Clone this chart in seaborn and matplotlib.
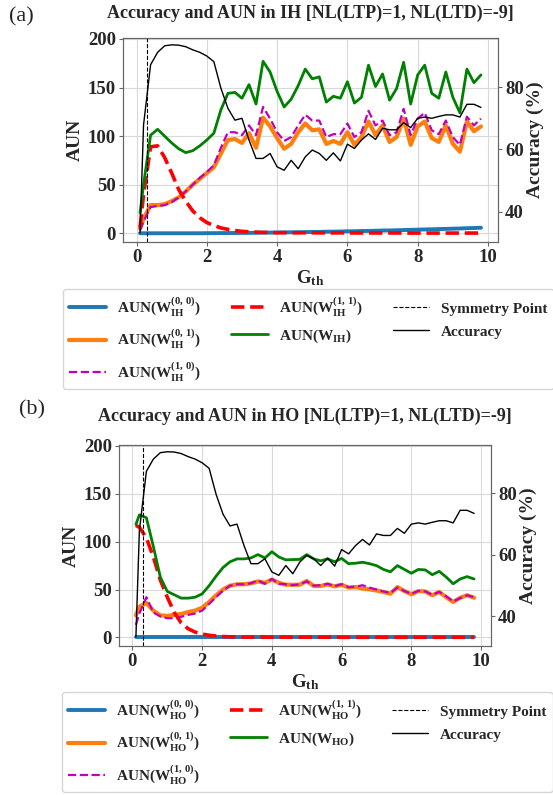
import numpy as np
import pandas as pd
import matplotlib
matplotlib.use("Agg")
import matplotlib.pyplot as plt
import seaborn as sns

# ---------------- data ----------------
g_th = [0.1, 0.2, 0.4, 0.6, 0.8, 1.0, 1.2, 1.4, 1.6, 1.8, 2.0, 2.2, 2.4, 2.6, 2.8,
        3.0, 3.2, 3.4, 3.6, 3.8, 4.0, 4.2, 4.4, 4.6, 4.8, 5.0, 5.2, 5.4, 5.6, 5.8,
        6.0, 6.2, 6.4, 6.6, 6.8, 7.0, 7.2, 7.4, 7.6, 7.8, 8.0, 8.2, 8.4, 8.6, 8.8,
        9.0, 9.2, 9.4, 9.6, 9.8]

accuracy = [33.2, 67.9, 87.2, 91.2, 93.3, 93.6, 93.5, 93.0, 92.0, 91.2, 90.0, 88.2, 79.7, 73.2, 69.4,
            70.0, 63.0, 57.1, 57.1, 58.7, 54.4, 53.3, 56.5, 53.8, 57.6, 59.8, 58.7, 56.5, 58.9, 56.3,
            61.7, 60.3, 63.0, 65.0, 63.2, 66.8, 66.3, 66.3, 68.6, 67.0, 70.0, 70.4, 70.0, 70.6, 71.1,
            71.1, 70.4, 74.5, 74.5, 73.5]

symmetry_point = 0.3

# IH layer
ih_w00 = [0.0, 0.0, 0.0, 0.0, 0.0, 0.0, 0.0, 0.0, 0.0, 0.0, 0.1, 0.1, 0.2, 0.2, 0.3,
          0.3, 0.4, 0.5, 0.6, 0.7, 0.8, 0.9, 1.0, 1.1, 1.2, 1.3, 1.4, 1.6, 1.7, 1.8,
          2.0, 2.1, 2.3, 2.4, 2.6, 2.8, 2.9, 3.1, 3.3, 3.5, 3.7, 3.9, 4.1, 4.3, 4.5,
          4.7, 4.9, 5.2, 5.4, 5.7]
ih_w01 = [5, 15, 29, 29, 30, 33, 37, 43, 50, 56, 62, 68, 82, 96, 97,
          93, 103, 88, 119, 110, 98, 87, 92, 104, 113, 106, 107, 92, 95, 92,
          104, 91, 99, 115, 101, 111, 94, 99, 118, 91, 110, 115, 98, 94, 111,
          92, 84, 115, 105, 110]
ih_w10 = [3, 12, 27, 28, 29, 32, 37, 43, 50, 57, 63, 70, 88, 104, 104,
          101, 111, 101, 130, 118, 104, 95, 99, 111, 122, 116, 116, 99, 102, 102,
          113, 99, 104, 126, 111, 116, 101, 104, 128, 101, 118, 124, 106, 102, 116,
          99, 91, 120, 111, 118]
ih_w11 = [6, 40, 89, 90, 78, 62, 45, 33, 23, 16, 11, 8, 5.5, 4, 2.8,
          2.0, 1.5, 1.1, 0.9, 0.7, 0.6, 0.6, 0.5, 0.5, 0.5, 0.5, 0.4, 0.4, 0.4, 0.4,
          0.4, 0.3, 0.3, 0.3, 0.3, 0.3, 0.3, 0.3, 0.2, 0.2, 0.2, 0.2, 0.2, 0.2, 0.2,
          0.2, 0.2, 0.2, 0.2, 0.2]
ih_w = [21, 50, 101, 107, 100, 93, 87, 83, 85, 90, 96, 103, 127, 144, 145,
        139, 153, 133, 177, 166, 146, 130, 138, 152, 169, 159, 161, 135, 141, 139,
        156, 134, 140, 173, 151, 164, 137, 149, 176, 133, 163, 173, 144, 139, 166,
        140, 124, 169, 155, 163]

# HO layer
ho_w00 = [0.0] * 50
ho_w01 = [23, 32, 36, 28, 23, 22.5, 23.5, 24.5, 26.5, 28, 31, 37, 44, 50, 54,
          55.5, 55.5, 56.5, 58.5, 57, 60.5, 57, 55, 55, 55, 59, 53.7, 53.7, 55.4, 53.3,
          55, 52, 52.6, 51, 50.2, 49, 47.4, 45.6, 52.6, 48.4, 45, 48.4, 48, 44, 47.4,
          42, 37, 41.4, 44, 41.4]
ho_w10 = [13, 25, 42, 26, 22, 20, 20, 21.5, 23.5, 25, 28, 35, 42, 49, 54,
          55.5, 55.5, 56.5, 59.5, 56, 61, 56, 55.5, 54.5, 55.5, 58.5, 54, 54.5, 56, 53.5,
          55.5, 52.5, 53, 54.5, 52, 50, 48, 46.5, 52, 48.5, 45.5, 48.5, 48, 44.5, 47.5,
          43, 37.5, 41, 44, 42]
ho_w11 = [117, 115, 104, 84, 60, 42, 26, 15, 9, 5.5, 3.5, 2.2, 1.4, 0.9, 0.6,
          0.4, 0.3, 0.3, 0.3, 0.3, 0.2, 0.2, 0.2, 0.2, 0.2, 0.2, 0.2, 0.2, 0.2, 0.2,
          0.1, 0.1, 0.1, 0.1, 0.1, 0.1, 0.1, 0.1, 0.1, 0.1, 0.1, 0.1, 0.1, 0.1, 0.1,
          0.1, 0.1, 0.1, 0.1, 0.1]
ho_w = [118, 128, 125, 95, 63, 48, 44.5, 41, 41, 42, 45.5, 54, 64, 73, 79,
        82, 82, 83, 86.5, 83, 89.5, 84, 81, 81.3, 81.5, 86.5, 82, 80, 82, 79,
        82.5, 77, 77.5, 78.5, 77, 75, 71, 68.5, 75, 71, 67, 71, 70.5, 65.5, 69,
        63, 56, 61, 63.5, 61]

# ---------------- style ----------------
sns.set_style("whitegrid", {"axes.edgecolor": "0.4", "xtick.bottom": True,
                            "ytick.left": True, "grid.color": "0.85"})
plt.rcParams.update({
    "font.family": ["Liberation Serif", "DejaVu Serif"],
    "font.weight": "bold",
    "axes.labelweight": "bold",
    "axes.titleweight": "bold",
    "mathtext.fontset": "custom",
    "mathtext.rm": "Liberation Serif:bold",
    "mathtext.it": "Liberation Serif:bold",
    "mathtext.bf": "Liberation Serif:bold",
    "mathtext.default": "regular",
})

W, H = 553, 795
fig = plt.figure(figsize=(W / 100, H / 100), dpi=100)


def px_rect(left, top, right, bottom):
    return [left / W, 1 - bottom / H, (right - left) / W, (bottom - top) / H]


def panel(rect, sub, w00, w01, w10, w11, wtot, title, tag, tag_xy, title_y, leg_xy):
    ax = fig.add_axes(px_rect(*rect))
    df = pd.DataFrame({"G": g_th, "w00": w00, "w01": w01, "w10": w10,
                       "w11": w11, "w": wtot, "acc": accuracy})
    sns.lineplot(data=df, x="G", y="w00", ax=ax, color="#1f77b4", lw=2.8,
                 label=r"AUN(W$_{\mathrm{%s}}^{(0,\,0)}$)" % sub)
    sns.lineplot(data=df, x="G", y="w01", ax=ax, color="#ff7f0e", lw=3.0,
                 label=r"AUN(W$_{\mathrm{%s}}^{(0,\,1)}$)" % sub)
    sns.lineplot(data=df, x="G", y="w10", ax=ax, color="m", lw=1.6, linestyle="--",
                 label=r"AUN(W$_{\mathrm{%s}}^{(1,\,0)}$)" % sub)
    sns.lineplot(data=df, x="G", y="w11", ax=ax, color="red", lw=2.6, linestyle="--",
                 label=r"AUN(W$_{\mathrm{%s}}^{(1,\,1)}$)" % sub)
    sns.lineplot(data=df, x="G", y="w", ax=ax, color="green", lw=2.0,
                 label=r"AUN(W$_{\mathrm{%s}}$)" % sub)
    ax.axvline(symmetry_point, color="k", ls="--", lw=0.8, label="Symmetry Point")
    ax.set_ylim(-9, 201)
    ax.set_yticks([0, 50, 100, 150, 200])
    ax.set_xticks([0, 2, 4, 6, 8, 10])
    ax.set_xlabel(r"G$_{\mathrm{th}}$", fontsize=13.5, labelpad=2)
    ax.set_ylabel("AUN", fontsize=14, labelpad=3)
    ax.tick_params(axis="both", labelsize=13.5, length=3, pad=2, color="0.4")

    ax2 = ax.twinx()
    sns.lineplot(data=df, x="G", y="acc", ax=ax2, color="black", lw=1.0, label="Accuracy")
    ax2.grid(False)
    ax2.set_ylim(30.25, 95.8)
    ax2.set_yticks([40, 60, 80])
    ax2.set_ylabel("Accuracy (%)", fontsize=14, labelpad=2)
    ax2.tick_params(axis="y", labelsize=13.5, length=3, pad=2, color="0.4", right=True)

    h1, l1 = ax.get_legend_handles_labels()
    h2, l2 = ax2.get_legend_handles_labels()
    for a in (ax, ax2):
        if a.get_legend() is not None:
            a.get_legend().remove()
    fig.legend(h1 + h2, l1 + l2, ncol=3, loc="upper left",
               bbox_to_anchor=(leg_xy[0] / W, 1 - leg_xy[1] / H),
               bbox_transform=fig.transFigure, borderaxespad=0,
               fontsize=11, handlelength=2.4, handletextpad=0.75,
               columnspacing=1.95, labelspacing=0.62, frameon=True)

    cx = (rect[0] + rect[2]) / 2
    fig.text(cx / W, 1 - title_y / H, title, ha="center", va="center",
             fontsize=13, fontweight="bold")
    fig.text(tag_xy[0] / W, 1 - tag_xy[1] / H, tag, ha="center", va="center",
             fontsize=16, fontweight="normal")
    return ax, ax2


panel((123, 38, 498, 242), "IH", ih_w00, ih_w01, ih_w10, ih_w11, ih_w,
      "Accuracy and AUN in IH [NL(LTP)=1, NL(LTD)=-9]", "(a)", (21, 17), 13, (63, 289))
panel((119, 445, 491, 646), "HO", ho_w00, ho_w01, ho_w10, ho_w11, ho_w,
      "Accuracy and AUN in HO [NL(LTP)=1, NL(LTD)=-9]", "(b)", (32, 410), 416, (62, 692))

fig.savefig("out.png", dpi=100)
